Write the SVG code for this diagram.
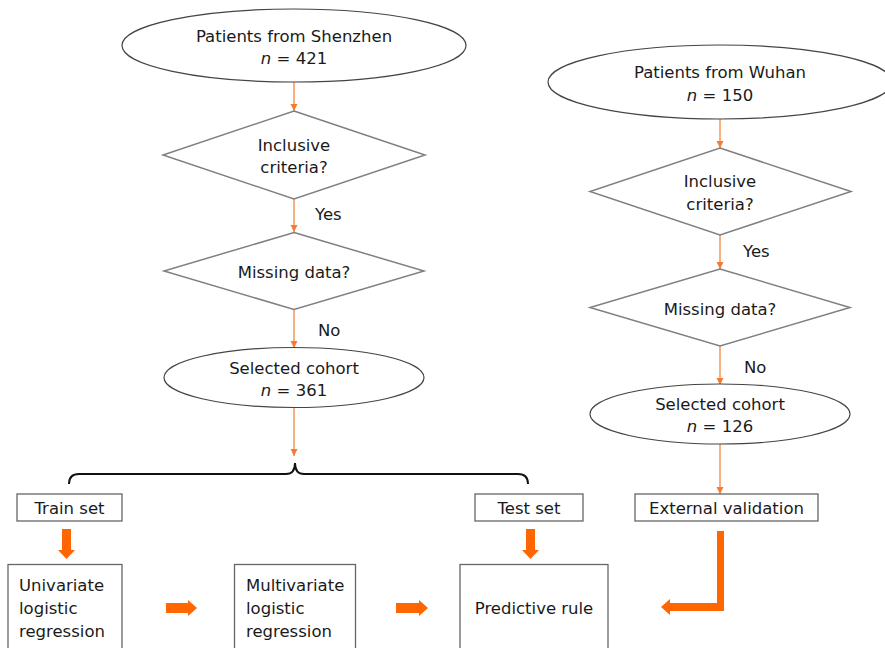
<svg xmlns="http://www.w3.org/2000/svg" width="885" height="648" viewBox="0 0 885 648">
<style>
text{font-family:"DejaVu Sans","Liberation Sans",sans-serif;font-size:16.5px;fill:#1a1a1a}
.c{text-anchor:middle}
.ell{fill:#fff;stroke:#444;stroke-width:1.2}
.dia{fill:#fff;stroke:#808080;stroke-width:1.5}
.box{fill:#fff;stroke:#666;stroke-width:1.3}
.thin{stroke:#f47b30;stroke-width:1.2;fill:none}
.fat{fill:#ff6600;stroke:none}
</style>
<defs>
<marker id="ah" viewBox="0 0 10 10" refX="10" refY="5" markerWidth="7" markerHeight="9" markerUnits="userSpaceOnUse" orient="auto"><path d="M0,0 L10,5 L0,10 z" fill="#f47b30"/></marker>
</defs>
<g id="connectors">
<line class="thin" x1="294" y1="82" x2="294" y2="111" marker-end="url(#ah)"/>
<line class="thin" x1="294" y1="199" x2="294" y2="232" marker-end="url(#ah)"/>
<line class="thin" x1="294" y1="310" x2="294" y2="348" marker-end="url(#ah)"/>
<line class="thin" x1="294" y1="408" x2="294" y2="456" marker-end="url(#ah)"/>
<line class="thin" x1="720" y1="119" x2="720" y2="148" marker-end="url(#ah)"/>
<line class="thin" x1="720" y1="235" x2="720" y2="269" marker-end="url(#ah)"/>
<line class="thin" x1="720" y1="346" x2="720" y2="385" marker-end="url(#ah)"/>
<line class="thin" x1="720" y1="444" x2="720" y2="494" marker-end="url(#ah)"/>
<path d="M69,484 Q69,474 79,474 L286,474 Q295,474 295,463 Q295,474 304,474 L518,474 Q528,474 528,484" fill="none" stroke="#111" stroke-width="2"/>
<path class="fat" d="M62,529 L71,529 L71,550 L75,550 L66.5,559 L58,550 L62,550 z"/>
<path class="fat" d="M526,529 L535,529 L535,550 L539,550 L530.5,559 L522,550 L526,550 z"/>
<path class="fat" d="M166,603 L188,603 L188,600 L197,608 L188,616 L188,613 L166,613 z"/>
<path class="fat" d="M396,603 L419,603 L419,600 L428,608 L419,616 L419,613 L396,613 z"/>
<path class="fat" d="M724,531 L724,611 L670,611 L670,615 L661,607 L670,599 L670,603 L717,603 L717,531 z"/>
<text x="315" y="220">Yes</text>
<text x="318" y="336">No</text>
<text x="743" y="257">Yes</text>
<text x="744" y="373">No</text>
</g>
<g id="shenzhen">
<ellipse class="ell" cx="294" cy="45.5" rx="172" ry="36.5"/>
<text class="c" x="294" y="42">Patients from Shenzhen</text>
<text class="c" x="294" y="64"><tspan font-style="italic">n</tspan> = 421</text>
</g>
<g id="incl-sz">
<polygon class="dia" points="294,111 425,155 294,199 163,155"/>
<text class="c" x="294" y="151">Inclusive</text>
<text class="c" x="294" y="173">criteria?</text>
</g>
<g id="miss-sz">
<polygon class="dia" points="294,232.5 424,271 294,309.5 164,271"/>
<text class="c" x="294" y="278">Missing data?</text>
</g>
<g id="cohort-sz">
<ellipse class="ell" cx="294" cy="377.5" rx="130" ry="30"/>
<text class="c" x="294" y="373.5">Selected cohort</text>
<text class="c" x="294" y="395.5"><tspan font-style="italic">n</tspan> = 361</text>
</g>
<g id="wuhan">
<ellipse class="ell" cx="720" cy="82" rx="172" ry="37"/>
<text class="c" x="720" y="78">Patients from Wuhan</text>
<text class="c" x="720" y="101"><tspan font-style="italic">n</tspan> = 150</text>
</g>
<g id="incl-wh">
<polygon class="dia" points="720,148 851,191.5 720,235 590,191.5"/>
<text class="c" x="720" y="187">Inclusive</text>
<text class="c" x="720" y="210">criteria?</text>
</g>
<g id="miss-wh">
<polygon class="dia" points="720,269 850,307.5 720,346 590,307.5"/>
<text class="c" x="720" y="315">Missing data?</text>
</g>
<g id="cohort-wh">
<ellipse class="ell" cx="720" cy="414" rx="130" ry="30"/>
<text class="c" x="720" y="410">Selected cohort</text>
<text class="c" x="720" y="432"><tspan font-style="italic">n</tspan> = 126</text>
</g>
<g id="train">
<rect class="box" x="17" y="494" width="105" height="27"/>
<text class="c" x="69.5" y="514">Train set</text>
</g>
<g id="test">
<rect class="box" x="475" y="494" width="108" height="27"/>
<text class="c" x="529" y="514">Test set</text>
</g>
<g id="external">
<rect class="box" x="635" y="494" width="183" height="27"/>
<text class="c" x="726.5" y="514">External validation</text>
</g>
<g id="univariate">
<rect class="box" x="8" y="564.5" width="114" height="90"/>
<text x="19" y="591">Univariate</text>
<text x="19" y="614">logistic</text>
<text x="19" y="637">regression</text>
</g>
<g id="multivariate">
<rect class="box" x="234.5" y="564.5" width="121" height="90"/>
<text x="246" y="591">Multivariate</text>
<text x="246" y="614">logistic</text>
<text x="246" y="637">regression</text>
</g>
<g id="predictive">
<rect class="box" x="460" y="564.5" width="148" height="90"/>
<text class="c" x="534" y="614">Predictive rule</text>
</g>
</svg>
